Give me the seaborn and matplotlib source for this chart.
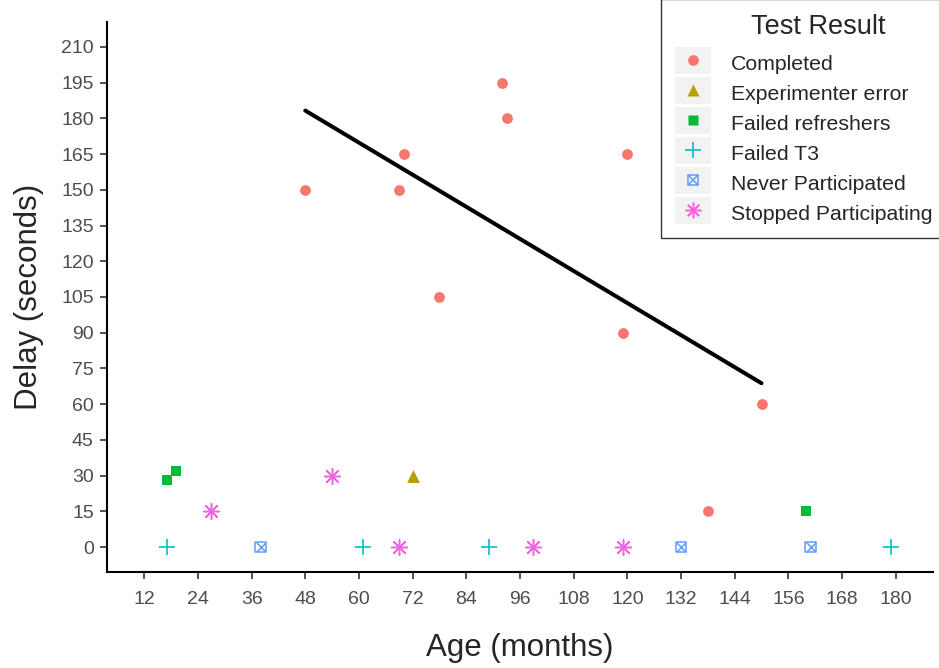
import pandas as pd
import seaborn as sns
import numpy as np
import matplotlib.pyplot as plt
from matplotlib.lines import Line2D
from matplotlib.patches import Patch, Rectangle
from matplotlib.legend_handler import HandlerTuple, HandlerPatch

# data: age (months), delay (seconds), test result
completed_age = [48, 70, 69, 78, 92, 93, 120, 119, 150, 138]
completed_delay = [150, 165, 150, 105, 195, 180, 165, 90, 60, 15]
experr_age = [72]
experr_delay = [30]
refresh_age = [17, 19, 160]
refresh_delay = [28, 32, 15]
t3_age = [17, 61, 89, 179]
t3_delay = [0, 0, 0, 0]
never_age = [38, 132, 161]
never_delay = [0, 0, 0]
stopped_age = [27, 54, 69, 99, 119]
stopped_delay = [15, 30, 0, 0, 0]

groups = ['Completed', 'Experimenter error', 'Failed refreshers',
          'Failed T3', 'Never Participated', 'Stopped Participating']
ages = [completed_age, experr_age, refresh_age, t3_age, never_age, stopped_age]
delays = [completed_delay, experr_delay, refresh_delay, t3_delay, never_delay, stopped_delay]

frames = []
for g, a, d in zip(groups, ages, delays):
    frames.append(pd.DataFrame({'Age': a, 'Delay': d, 'Result': g}))
df = pd.concat(frames, ignore_index=True)

colors = ['#F8766D', '#B79F00', '#00BA38', '#00BFC4', '#619CFF', '#F564E3']
asterisk = (8, 2, 0)

sns.set_style('white')
plt.rcParams['font.family'] = ['Liberation Sans', 'DejaVu Sans']

fig = plt.figure(figsize=(9.39, 6.68), dpi=100)
ax = fig.add_axes([0.1136, 0.1437, 0.8803, 0.8234])

for g, c in zip(groups, colors):
    sub = df[df.Result == g]
    if g == 'Completed':
        sns.scatterplot(data=sub, x='Age', y='Delay', marker='o', s=60, color=c, linewidth=0, ax=ax)
    elif g == 'Experimenter error':
        sns.scatterplot(data=sub, x='Age', y='Delay', marker='^', s=85, color=c, linewidth=0, ax=ax)
    elif g == 'Failed refreshers':
        sns.scatterplot(data=sub, x='Age', y='Delay', marker='s', s=50, color=c, linewidth=0, ax=ax)
    elif g == 'Failed T3':
        sns.scatterplot(data=sub, x='Age', y='Delay', marker='+', s=130, color=c, linewidth=1.2, ax=ax)
    elif g == 'Never Participated':
        ax.scatter(sub.Age, sub.Delay, marker='s', s=60, facecolors='none', edgecolors=c, linewidths=1.1)
        sns.scatterplot(data=sub, x='Age', y='Delay', marker='x', s=45, color=c, linewidth=1.1, ax=ax)
    else:
        sns.scatterplot(data=sub, x='Age', y='Delay', marker=asterisk, s=130, color=c, linewidth=1.1, ax=ax)

# linear fit on the completed participants
sns.regplot(data=df[df.Result == 'Completed'], x='Age', y='Delay', scatter=False, ci=None,
            color='black', line_kws={'linewidth': 2.9}, ax=ax)

ax.set_xlim(3.6, 188.4)
ax.set_ylim(-10.5, 220.5)
ax.set_xticks(np.arange(12, 181, 12))
ax.set_yticks(np.arange(0, 211, 15))
ax.set_xlabel('Age (months)', fontsize=22.5, labelpad=18)
ax.set_ylabel('Delay (seconds)', fontsize=22.5, labelpad=12)
ax.tick_params(axis='both', labelsize=14, labelcolor='#4D4D4D', color='#333333',
               length=5, width=1.2, direction='out', bottom=True, left=True)
ax.tick_params(axis='x', pad=9)
ax.tick_params(axis='y', pad=4.3)
for s in ['top', 'right']:
    ax.spines[s].set_visible(False)
for s in ['left', 'bottom']:
    ax.spines[s].set_color('black')
    ax.spines[s].set_linewidth(1.5)


# grey key background, taller than the legend row box
def key_rect(legend, orig_handle, xdescent, ydescent, width, height, fontsize):
    hk = 19.4
    cy = (height - ydescent) / 2
    return Rectangle((-xdescent, cy - hk / 2), width, hk)


key_bg = '#F2F2F2'
handles = [
    (Patch(facecolor=key_bg, edgecolor='none'), Line2D([], [], ls='none', marker='o', ms=7.7, mfc=colors[0], mec='none')),
    (Patch(facecolor=key_bg, edgecolor='none'), Line2D([], [], ls='none', marker='^', ms=9.2, mfc=colors[1], mec='none')),
    (Patch(facecolor=key_bg, edgecolor='none'), Line2D([], [], ls='none', marker='s', ms=7.1, mfc=colors[2], mec='none')),
    (Patch(facecolor=key_bg, edgecolor='none'), Line2D([], [], ls='none', marker='+', ms=11.4, mec=colors[3], mew=1.2)),
    (Patch(facecolor=key_bg, edgecolor='none'), Line2D([], [], ls='none', marker='s', ms=7.7, mfc='none', mec=colors[4], mew=1.1),
     Line2D([], [], ls='none', marker='x', ms=6.7, mec=colors[4], mew=1.1)),
    (Patch(facecolor=key_bg, edgecolor='none'), Line2D([], [], ls='none', marker=asterisk, ms=11.4, mec=colors[5], mew=1.1)),
]
leg = ax.legend(handles, groups, title='Test Result', loc='upper left',
                bbox_to_anchor=(661 / 939, 0, 315 / 939, 1.001), bbox_transform=fig.transFigure,
                mode='expand',
                handler_map={tuple: HandlerTuple(ndivide=1), Patch: HandlerPatch(patch_func=key_rect)},
                fontsize=15.3, title_fontsize=19.5, handlelength=1.65, handleheight=1.27,
                labelspacing=0.34, handletextpad=0.95, borderpad=0.68,
                fancybox=False, frameon=True, borderaxespad=0)
leg.get_frame().set_edgecolor('black')
leg.get_frame().set_linewidth(1.0)
leg._legend_box.sep = 8.2

fig.savefig('out.png', dpi=100)
